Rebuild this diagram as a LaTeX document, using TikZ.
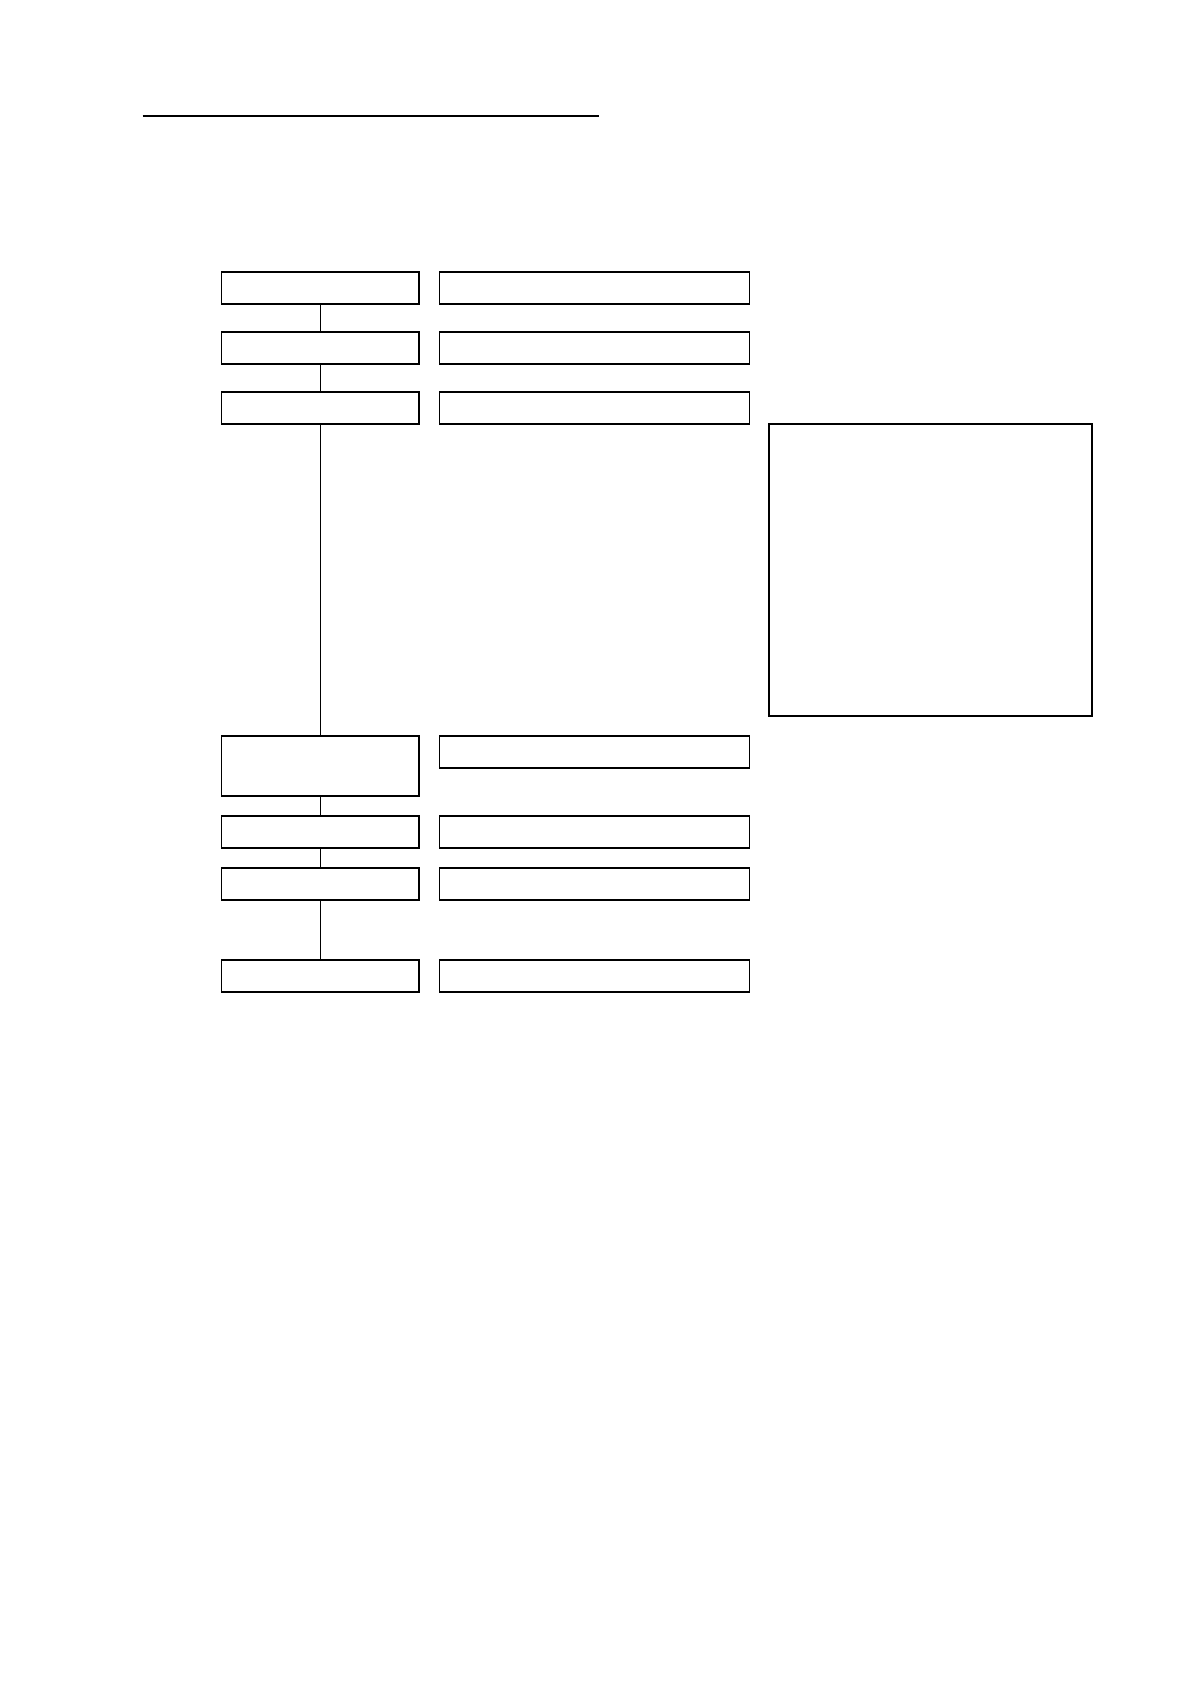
\documentclass[tikz,border=0pt]{standalone}
\begin{document}
\begin{tikzpicture}[x=0.5pt,y=-0.5pt,
  box/.style={draw=black,line width=0.6pt,inner sep=0pt,outer sep=0pt,fill=white},
  lbox/.style={box,minimum width=98.85pt,minimum height=16pt},
  rbox/.style={box,minimum width=154.8pt,minimum height=16pt},
  link/.style={draw=black,line width=0.6pt}]
\useasboundingbox (0,0) rectangle (1190,1684);
% title underline
\coordinate (t1) at (142.7,115.7);
\coordinate (t2) at (598.7,115.7);
\draw[line width=1pt] (t1) -- (t2);
% left column
\node[lbox] (l1) at (320.2,288) {};
\node[lbox] (l2) at (320.2,348) {};
\node[lbox] (l3) at (320.2,408) {};
\node[lbox,minimum height=30pt] (l4) at (320.2,766) {};
\node[lbox] (l5) at (320.2,832) {};
\node[lbox] (l6) at (320.2,884) {};
\node[lbox] (l7) at (320.2,976) {};
% right column
\node[rbox] (r1) at (594.5,288) {};
\node[rbox] (r2) at (594.5,348) {};
\node[rbox] (r3) at (594.5,408) {};
\node[rbox] (r4) at (594.5,752) {};
\node[rbox] (r5) at (594.5,832) {};
\node[rbox] (r6) at (594.5,884) {};
\node[rbox] (r7) at (594.5,976) {};
% big box
\node[box,minimum width=161.5pt,minimum height=146pt] (big) at (930.5,570) {};
% connectors
\draw[link] (l1.south) -- (l2.north);
\draw[link] (l2.south) -- (l3.north);
\draw[link] (l3.south) -- (l4.north);
\draw[link] (l4.south) -- (l5.north);
\draw[link] (l5.south) -- (l6.north);
\draw[link] (l6.south) -- (l7.north);
\end{tikzpicture}
\end{document}
